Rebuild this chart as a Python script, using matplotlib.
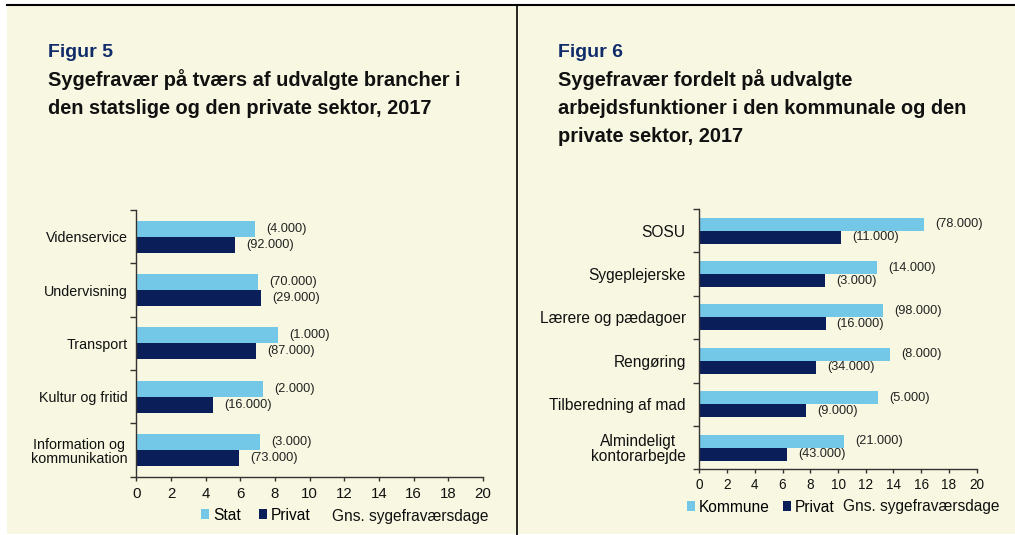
import matplotlib
matplotlib.use('Agg')
import matplotlib.pyplot as plt
import numpy as np
from matplotlib.patches import Rectangle
from matplotlib.lines import Line2D

plt.rcParams['font.family'] = ['Liberation Sans', 'DejaVu Sans']

# Figur 5 data
brancher = ['Videnservice', 'Undervisning', 'Transport', 'Kultur og fritid',
            'Information og\nkommunikation']
stat = [6.85, 7.04, 8.19, 7.31, 7.12]
privat5 = [5.68, 7.18, 6.91, 4.43, 5.93]
stat_n = ['(4.000)', '(70.000)', '(1.000)', '(2.000)', '(3.000)']
privat5_n = ['(92.000)', '(29.000)', '(87.000)', '(16.000)', '(73.000)']

# Figur 6 data
funktioner = ['SOSU', 'Sygeplejerske', 'Lærere og pædagoer', 'Rengøring',
              'Tilberedning af mad', 'Almindeligt\nkontorarbejde']
kommune = [16.2, 12.8, 13.24, 13.77, 12.86, 10.45]
privat6 = [10.2, 9.08, 9.1, 8.39, 7.67, 6.34]
kommune_n = ['(78.000)', '(14.000)', '(98.000)', '(8.000)', '(5.000)', '(21.000)']
privat6_n = ['(11.000)', '(3.000)', '(16.000)', '(34.000)', '(9.000)', '(43.000)']

xticks = list(range(0, 21, 2))

lightblue = '#73C8E8'
navy = '#0A1E5A'
cream = '#F8F7E1'
titlecol = '#112C6B'

W, H = 1015, 535
fig = plt.figure(figsize=(W / 100, H / 100), dpi=100)
fig.patch.set_facecolor('white')

# baggrund, streg i toppen og skillelinje
fig.add_artist(Rectangle((7 / W, 1 / H), 1 - 7 / W, 1 - 6 / H,
                         transform=fig.transFigure, facecolor=cream,
                         edgecolor='none', zorder=-10))
fig.add_artist(Line2D([7 / W, 1], [1 - 5 / H] * 2, transform=fig.transFigure,
                      color='black', lw=1.5))
fig.add_artist(Line2D([517 / W] * 2, [0, 1 - 5 / H], transform=fig.transFigure,
                      color='black', lw=1.2))


def px(x, y):
    return x / W, 1 - y / H


def panel(rect, cats, v1, v2, n1, n2, lab1, catsize, ticksize, tickpad, catpad,
          leg_xy, gns_xy, colsp):
    ax = fig.add_axes(rect)
    ax.set_facecolor('none')
    y = np.arange(len(cats))
    h = 0.3
    b1 = ax.barh(y - h / 2, v1, height=h, color=lightblue, label=lab1)
    b2 = ax.barh(y + h / 2, v2, height=h, color=navy, label='Privat')
    for bars, labs in ((b1, n1), (b2, n2)):
        for b, t in zip(bars, labs):
            ax.annotate(t, (b.get_width(), b.get_y() + b.get_height() / 2),
                        xytext=(8, 0), textcoords='offset points',
                        va='center', ha='left', fontsize=9.2, color='#222222')
    ax.set_xlim(0, 20)
    ax.set_ylim(len(cats) - 0.5, -0.5)
    ax.set_xticks(xticks)
    ax.set_xticklabels([str(v) for v in xticks], fontsize=ticksize)
    ax.tick_params(axis='x', length=3, width=1, pad=tickpad, colors='#333333',
                   labelcolor='#111111')
    ax.set_yticks(np.arange(len(cats) + 1) - 0.5)
    ax.set_yticklabels([])
    ax.tick_params(axis='y', length=4, width=1, colors='#333333')
    ax.set_yticks(y, minor=True)
    ax.set_yticklabels(cats, minor=True, fontsize=catsize, linespacing=1.0,
                       multialignment='center', color='#111111')
    ax.tick_params(axis='y', which='minor', length=0, pad=catpad)
    for s in ('top', 'right'):
        ax.spines[s].set_visible(False)
    for s in ('left', 'bottom'):
        ax.spines[s].set_color('#333333')
        ax.spines[s].set_linewidth(1.0)
    fig.legend(handles=[b1, b2], loc='center left',
               bbox_to_anchor=px(*leg_xy), bbox_transform=fig.transFigure,
               ncol=2, frameon=False, fontsize=11.2, handlelength=0.52,
               handleheight=0.52, handletextpad=0.25, columnspacing=colsp,
               borderpad=0, borderaxespad=0)
    fig.text(*px(*gns_xy), 'Gns. sygefraværsdage', fontsize=11.2,
             ha='left', va='center', color='#111111')
    return ax


panel([136.3 / W, 1 - 476.7 / H, (483 - 136.3) / W, (476.7 - 210) / H],
      brancher, stat, privat5, stat_n, privat5_n, 'Stat',
      10.3, 10.8, 4.5, 6.2, (201, 515), (332, 516), 1.15)

panel([699.3 / W, 1 - 469.3 / H, (976.7 - 699.3) / W, (469.3 - 209) / H],
      funktioner, kommune, privat6, kommune_n, privat6_n, 'Kommune',
      11.2, 9.8, 3.5, 9.8, (687, 507), (843, 507), 0.85)

# titler
titles = [
    (48, ['Sygefravær på tværs af udvalgte brancher i',
          'den statslige og den private sektor, 2017'], 'Figur 5'),
    (558, ['Sygefravær fordelt på udvalgte',
           'arbejdsfunktioner i den kommunale og den',
           'private sektor, 2017'], 'Figur 6'),
]
for x0, lines, fig_label in titles:
    fig.text(*px(x0, 52), fig_label, fontsize=14, fontweight='bold',
             color=titlecol, ha='left', va='center')
    for i, line in enumerate(lines):
        fig.text(*px(x0, 80 + 28.5 * i), line, fontsize=14.4, fontweight='bold',
                 color='#111111', ha='left', va='center')

fig.savefig('out.png', dpi=100, facecolor=fig.get_facecolor())
